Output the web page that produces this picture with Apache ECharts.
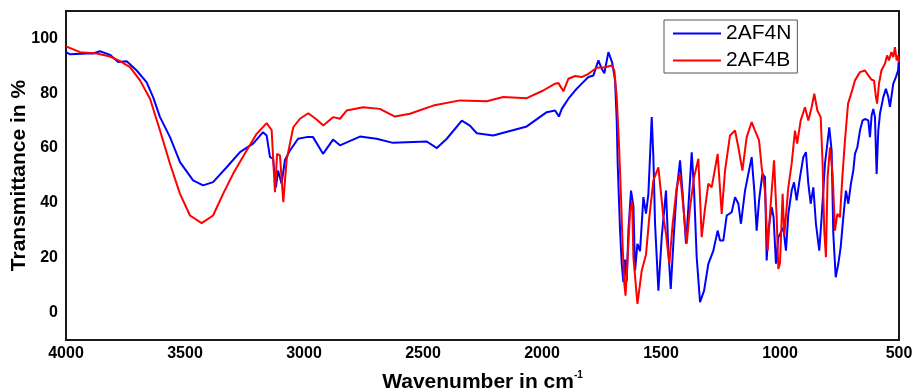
<!DOCTYPE html>
<html>
<head>
<meta charset="utf-8">
<script src="https://cdn.jsdelivr.net/npm/echarts@6/dist/echarts.min.js"></script>
<style>html,body{margin:0;padding:0;background:#fff}#c{width:914px;height:392px}</style>
</head>
<body>
<div id="c"></div>
<script>
// 2AF4N (blue)
var n_wn = [4000,3983,3912,3887,3857,3815,3781,3745,3703,3661,3634,3605,3563,3521,3466,3424,3382,3325,3269,3214,3172,3157,3143,3130,3118,3109,3094,3080,3059,3025,2989,2962,2920,2878,2849,2765,2695,2626,2484,2442,2400,2337,2303,2274,2205,2064,1980,1945,1929,1917,1889,1861,1833,1805,1784,1763,1749,1738,1721,1705,1693,1686,1682,1676,1672,1665,1658,1651,1644,1637,1626,1616,1609,1599,1588,1574,1563,1553,1539,1532,1525,1511,1497,1479,1469,1459,1445,1434,1420,1409,1395,1385,1371,1361,1350,1336,1319,1301,1280,1262,1252,1238,1224,1203,1189,1175,1164,1147,1133,1119,1108,1098,1088,1074,1063,1056,1049,1035,1027,1017,1007,986,975,965,951,941,930,916,902,891,881,871,860,849,835,825,811,793,783,776,766,755,745,734,723,713,702,692,685,675,664,653,643,629,622,615,608,601,594,587,580,566,555,545,538,524,513,504,500];
var n_T = [95.0,94.2,94.5,94.5,95.3,94.0,91.4,91.7,88.3,84.0,78.6,71.3,64.0,54.9,48.2,46.4,47.6,53.0,58.5,61.6,65.8,64.6,56.7,56.2,45.7,51.8,47.0,55.7,59.1,63.4,64.0,64.0,57.9,63.1,61.0,64.2,63.4,61.9,62.4,60.0,63.4,70.0,68.2,65.4,64.6,67.9,73.1,73.7,71.5,74.3,78.0,81.0,83.5,85.9,86.5,92.0,88.9,87.3,95.0,91.2,84.7,70.0,54.3,39.7,29.9,17.8,11.1,19.3,11.4,29.9,44.5,39.0,15.3,25.1,22.4,42.1,36.1,43.3,71.3,56.7,32.4,8.0,27.5,44.5,22.6,8.6,29.9,44.5,55.5,43.3,25.1,38.4,58.5,44.5,20.2,3.8,8.0,17.8,22.6,29.9,26.3,26.3,35.4,36.6,42.1,39.7,32.4,44.5,50.6,56.7,44.5,29.9,40.9,50.6,49.4,19.0,29.9,38.4,34.8,17.8,27.5,31.0,22.6,36.0,44.5,47.5,40.9,49.4,56.7,58.5,47.0,39.7,45.7,32.4,22.6,34.8,54.3,67.6,59.0,28.7,12.9,17.8,23.9,34.8,44.5,39.7,47.0,51.8,57.9,60.3,66.4,70.1,70.6,70.1,64.0,71.9,74.3,71.3,50.6,66.4,72.5,78.6,81.6,78.6,75.0,83.5,85.9,88.3,93.2];

// 2AF4B (red)
var b_wn = [4000,3941,3871,3815,3773,3731,3689,3647,3605,3563,3521,3479,3430,3382,3340,3298,3241,3199,3157,3136,3122,3113,3101,3087,3073,3045,3017,2982,2947,2919,2877,2849,2821,2751,2681,2618,2555,2457,2345,2232,2163,2064,1995,1945,1931,1910,1889,1861,1833,1805,1770,1735,1707,1696,1686,1676,1668,1661,1654,1649,1640,1630,1621,1616,1599,1581,1563,1549,1532,1511,1490,1479,1465,1451,1434,1420,1406,1392,1378,1361,1343,1329,1315,1301,1287,1262,1245,1231,1210,1189,1175,1158,1140,1119,1105,1088,1077,1063,1052,1039,1025,1014,1007,1000,989,982,965,951,937,928,913,895,881,867,856,843,829,821,814,807,800,790,779,769,759,748,738,727,714,699,685,678,664,643,629,615,605,597,592,584,574,559,550,542,532,524,517,510,504,500];
var b_T = [97.1,95.0,94.5,93.4,91.7,89.5,84.7,78.0,66.4,54.3,43.3,35.4,32.6,35.4,43.3,50.6,59.1,65.2,69.1,66.6,43.9,57.9,57.3,40.3,55.7,67.6,70.7,72.7,70.4,68.2,71.3,70.7,73.7,74.9,74.3,71.5,72.5,75.5,77.4,77.1,78.6,78.2,81.0,83.5,83.7,80.7,85.3,86.3,85.9,87.1,89.3,89.5,90.1,88.2,78.6,60.3,42.1,23.8,10.5,6.2,20.2,37.0,40.3,20.2,3.2,15.3,21.2,34.8,48.2,53.0,34.8,28.7,17.8,32.4,45.7,50.6,38.4,25.1,38.4,49.4,56.1,27.5,38.0,47.0,45.7,57.9,36.0,51.8,64.6,66.4,60.3,51.8,64.0,69.5,66.4,62.8,53.0,44.5,22.6,39.7,55.5,34.8,15.9,18.0,43.3,28.0,45.7,54.3,66.4,61.6,70.1,74.9,70.1,74.9,79.8,73.7,71.3,54.3,29.9,20.2,49.4,60.3,50.6,29.9,36.0,34.8,49.4,62.8,76.2,80.4,84.7,85.3,87.7,88.3,86.5,84.9,84.7,78.6,76.2,83.5,88.3,90.8,93.8,92.0,95.0,93.2,96.8,92.0,93.8,91.4];

var seriesNames = ['2AF4N', '2AF4B'];
var xTicks = [500, 1000, 1500, 2000, 2500, 3000, 3500, 4000];
var yTicks = [0, 20, 40, 60, 80, 100];

function pairs(xs, ys) { return xs.map(function (x, i) { return [x, ys[i]]; }); }

var FONT = 'Liberation Sans, Arial, sans-serif';
var chart = echarts.init(document.getElementById('c'), null, { renderer: 'canvas' });
chart.setOption({
  animation: false,
  backgroundColor: '#fff',
  grid: { left: 66, right: 15, top: 11, bottom: 52, containLabel: false, outerBoundsMode: 'none',
          show: true, borderColor: '#1a1a1a', borderWidth: 2, backgroundColor: 'transparent' },
  legend: {
    left: 664, top: 20, orient: 'vertical',
    itemWidth: 48, itemHeight: 14, itemGap: 6, itemStyle: { opacity: 0 },
    padding: [3, 6, 2, 8],
    borderColor: '#555', borderWidth: 1, backgroundColor: '#fff',
    textStyle: { fontFamily: FONT, fontSize: 21, color: '#000' },
    data: seriesNames
  },
  xAxis: {
    type: 'value', min: 500, max: 4000, interval: 500, inverse: true,
    axisLine: { show: false }, axisTick: { show: false }, splitLine: { show: false },
    axisLabel: { customValues: xTicks, margin: 6, fontFamily: FONT, fontSize: 16, fontWeight: 'bold', color: '#000',
                 formatter: function (v) { return String(v); } },
    name: '{a|Wavenumber in cm}{b|-1}', nameLocation: 'middle', nameGap: 30,
    nameTextStyle: { rich: {
      a: { fontFamily: FONT, fontSize: 21, fontWeight: 'bold', color: '#000', lineHeight: 24 },
      b: { fontFamily: FONT, fontSize: 10, fontWeight: 'bold', color: '#000', verticalAlign: 'top', lineHeight: 24 }
    } }
  },
  yAxis: {
    type: 'value', min: -10, max: 110,
    axisLine: { show: false }, axisTick: { show: false }, splitLine: { show: false },
    axisLabel: { customValues: yTicks, margin: 8, fontFamily: FONT, fontSize: 16, fontWeight: 'bold', color: '#000',
                 formatter: function (v) { return String(v); } },
    name: 'Transmittance in %', nameLocation: 'middle', nameGap: 36, nameMoveOverlap: false,
    nameTextStyle: { fontFamily: FONT, fontSize: 21, fontWeight: 'bold', color: '#000' }
  },
  series: [
    { name: seriesNames[0], type: 'line', data: pairs(n_wn, n_T), symbol: 'none', lineStyle: { color: '#0000ff', width: 2 }, itemStyle: { color: '#0000ff' } },
    { name: seriesNames[1], type: 'line', data: pairs(b_wn, b_T), symbol: 'none', lineStyle: { color: '#ff0000', width: 2 }, itemStyle: { color: '#ff0000' } }
  ]
});
</script>
</body>
</html>
